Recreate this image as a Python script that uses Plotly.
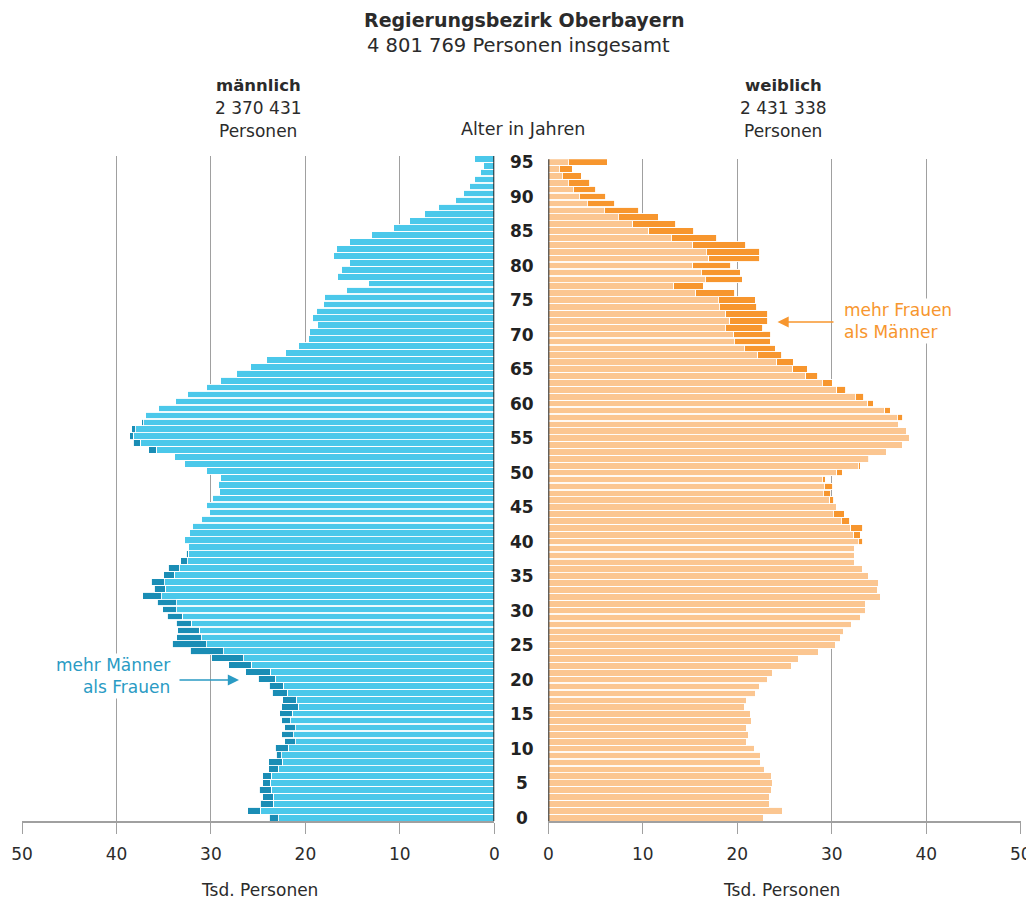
import plotly.graph_objects as go

ages = list(range(0, 96))

maennlich = [
    23.85, 26.1, 24.8, 24.5, 24.9, 24.5, 24.5, 23.9, 23.9, 23.1,   # 0-9
    23.2, 22.2, 22.5, 22.2, 22.5, 22.7, 22.5, 22.4, 23.5, 23.85,   # 10-19
    25.0, 26.3, 28.1, 29.9, 32.2, 34.1, 33.6, 33.5, 33.65, 34.6,   # 20-29
    35.1, 35.7, 37.2, 36.0, 36.3, 35.0, 34.5, 33.2, 32.6, 32.35,   # 30-39
    32.8, 32.3, 32.0, 31.0, 30.16, 30.5, 29.8, 29.07, 29.2, 29.0,  # 40-49
    30.5, 32.8, 33.86, 36.6, 38.2, 38.6, 38.4, 37.3, 36.9, 35.6,   # 50-59
    33.8, 32.5, 30.5, 29.0, 27.25, 25.85, 24.15, 22.15, 20.75, 19.7,  # 60-69
    19.6, 18.7, 19.2, 18.8, 18.1, 18.0, 15.6, 13.3, 16.6, 16.2,   # 70-79
    15.3, 17.0, 16.7, 15.3, 13.0, 10.65, 8.95, 7.4, 5.9, 4.1,     # 80-89
    3.25, 2.65, 2.1, 1.5, 1.15, 2.1,                               # 90-95
]

weiblich = [
    22.8, 24.8, 23.4, 23.4, 23.6, 23.7, 23.6, 22.86, 22.47, 22.5,  # 0-9
    21.8, 21.0, 21.23, 21.0, 21.55, 21.4, 20.74, 20.95, 21.9, 22.36,  # 10-19
    23.2, 23.74, 25.75, 26.5, 28.64, 30.44, 30.97, 31.25, 32.1, 33.05,  # 20-29
    33.6, 33.6, 35.2, 34.85, 34.9, 33.9, 33.3, 32.45, 32.4, 32.35,  # 30-39
    33.3, 33.0, 33.3, 31.9, 31.3, 30.45, 30.2, 29.9, 30.1, 29.3,   # 40-49
    31.1, 33.0, 33.97, 35.8, 37.5, 38.2, 37.95, 37.1, 37.5, 36.2,  # 50-59
    34.4, 33.4, 31.5, 30.05, 28.5, 27.4, 25.9, 24.7, 24.0, 23.5,   # 60-69
    23.56, 22.7, 23.2, 23.2, 22.05, 21.9, 19.75, 16.4, 20.5, 20.3,  # 70-79
    19.33, 22.4, 22.4, 20.9, 17.85, 15.4, 13.5, 11.64, 9.56, 7.05,  # 80-89
    6.1, 5.04, 4.41, 3.49, 2.54, 6.24,                             # 90-95
]

x_ticks = [0, 10, 20, 30, 40, 50]
age_labels = list(range(0, 96, 5))

title = "Regierungsbezirk Oberbayern"
subtitle = "4 801 769 Personen insgesamt"
summe_m = "2 370 431"
summe_w = "2 431 338"

# colours
M_LIGHT = "#4BC8EA"
M_DARK = "#1A8DB5"
W_LIGHT = "#FBC691"
W_DARK = "#F7962E"
TXT = "#2b2b2b"
GRID = "#a0a0a0"
FONT = "DejaVu Sans"

common = [min(m, w) for m, w in zip(maennlich, weiblich)]
m_extra = [max(m - w, 0) for m, w in zip(maennlich, weiblich)]
w_extra = [max(w - m, 0) for m, w in zip(maennlich, weiblich)]

W, H = 1034, 902
OFF = 8  # page body margin


def px_x(p):
    return (p - OFF) / W


def px_y(p):
    return 1 - (p - OFF) / H


fig = go.Figure()
line = dict(color="white", width=0.9)
fig.add_trace(go.Bar(y=ages, x=common, orientation="h", marker=dict(color=M_LIGHT, line=line),
                     xaxis="x", yaxis="y", hoverinfo="skip"))
fig.add_trace(go.Bar(y=ages, x=m_extra, orientation="h", marker=dict(color=M_DARK, line=line),
                     xaxis="x", yaxis="y", hoverinfo="skip"))
fig.add_trace(go.Bar(y=ages, x=common, orientation="h", marker=dict(color=W_LIGHT, line=line),
                     xaxis="x2", yaxis="y2", hoverinfo="skip"))
fig.add_trace(go.Bar(y=ages, x=w_extra, orientation="h", marker=dict(color=W_DARK, line=line),
                     xaxis="x2", yaxis="y2", hoverinfo="skip"))

xcommon = dict(
    tickvals=x_ticks, ticktext=[str(v) for v in x_ticks],
    showgrid=True, gridcolor=GRID, gridwidth=1,
    zeroline=False, showline=True, linecolor=GRID, linewidth=1.5,
    ticks="outside", ticklen=11, tickcolor=GRID, tickwidth=1,
    tickfont=dict(family=FONT, size=17, color=TXT),
    ticklabelstandoff=6, fixedrange=True, automargin=False,
)
yr = [-0.48, 95.4]
fig.update_layout(
    width=W, height=H, autosize=False,
    margin=dict(l=0, r=0, t=0, b=0, pad=0),
    paper_bgcolor="white", plot_bgcolor="white",
    barmode="stack", bargap=0.04, showlegend=False,
    xaxis=dict(domain=[px_x(22), px_x(494.3)], range=[50, 0], anchor="y", **xcommon),
    xaxis2=dict(domain=[px_x(548.3), px_x(1020.8)], range=[0, 50], anchor="y2", **xcommon),
    yaxis=dict(domain=[px_y(821), px_y(156)], range=yr, anchor="x", visible=False,
               fixedrange=True, automargin=False),
    yaxis2=dict(domain=[px_y(821), px_y(159.3)], range=yr, anchor="x2", visible=False,
                fixedrange=True, automargin=False),
    font=dict(family=FONT, color=TXT),
)

shapes = [
    dict(type="line", xref="x", yref="y domain", x0=0, x1=0, y0=0, y1=1,
         line=dict(color="#222", width=2), layer="above"),
    dict(type="line", xref="x2", yref="y2 domain", x0=0, x1=0, y0=0, y1=1,
         line=dict(color="#222", width=2), layer="above"),
    # masks behind annotation arrows (gridline gaps)
    dict(type="rect", xref="paper", yref="paper", x0=px_x(175), x1=px_x(245),
         y0=px_y(698), y1=px_y(651), fillcolor="white", line=dict(width=0), layer="between"),
    dict(type="rect", xref="paper", yref="paper", x0=px_x(772), x1=px_x(840),
         y0=px_y(328), y1=px_y(313), fillcolor="white", line=dict(width=0), layer="between"),
]
fig.update_layout(shapes=shapes)

ann = []


def txt(x, y, text, size=17, color=TXT, xanchor="center", bg=None, align="center"):
    d = dict(x=px_x(x), y=px_y(y), xref="paper", yref="paper", text=text, showarrow=False,
             xanchor=xanchor, yanchor="middle", align=align,
             font=dict(family=FONT, size=size, color=color))
    if bg:
        d["bgcolor"] = bg
    ann.append(d)


txt(524, 20, f"<b>{title}</b>", 19)
txt(518, 46, subtitle, 19.5)
txt(258, 86, "<b>männlich</b>", 16.5)
txt(258, 108, summe_m, 17)
txt(258, 131, "Personen", 17)
txt(783, 86, "<b>weiblich</b>", 16.5)
txt(783, 108, summe_w, 17)
txt(783, 131, "Personen", 17)
txt(523, 129, "Alter in Jahren", 17.5)
txt(259, 890, "Tsd. Personen", 17)
txt(781, 890, "Tsd. Personen", 17)

BLUE_T = "#2A9BC4"
ORANGE_T = "#F7962E"
txt(172, 676, "mehr Männer<br>als Frauen", 17, BLUE_T, xanchor="right", bg="white", align="right")
txt(842, 321, "mehr Frauen<br>als Männer", 17, ORANGE_T, xanchor="left", bg="white", align="left")

# arrows
ann.append(dict(x=px_x(239), y=px_y(680), xref="paper", yref="paper", ax=-61, ay=0,
                axref="pixel", ayref="pixel", text="", showarrow=True, arrowhead=2,
                arrowsize=1.4, arrowwidth=1.6, arrowcolor=BLUE_T))
ann.append(dict(x=px_x(777.5), y=px_y(322), xref="paper", yref="paper", ax=57.5, ay=0,
                axref="pixel", ayref="pixel", text="", showarrow=True, arrowhead=2,
                arrowsize=1.4, arrowwidth=1.6, arrowcolor=ORANGE_T))

for a in age_labels:
    ann.append(dict(x=px_x(522), y=a, xref="paper", yref="y2", text=f"<b>{a}</b>",
                    showarrow=False, xanchor="center", yanchor="middle",
                    font=dict(family=FONT, size=17, color="#222")))

fig.update_layout(annotations=ann)
fig.write_html("out.html")
